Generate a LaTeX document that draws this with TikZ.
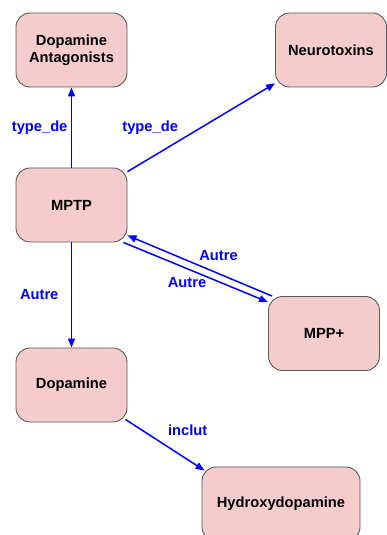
\documentclass[tikz,border=0pt]{standalone}
\usepackage{fontspec}
\setmainfont{Liberation Sans}
\usetikzlibrary{arrows.meta}
\definecolor{boxpink}{HTML}{F4CCCC}
\definecolor{boxline}{HTML}{5A5A5A}

\begin{document}
\begin{tikzpicture}[x=1pt, y=1pt,
    concept/.style={draw=boxline, line width=0.9pt, fill=boxpink, rounded corners=14pt,
      minimum width=111pt, minimum height=74pt, align=center,
      font=\fontsize{14.7}{17}\selectfont\bfseries},
    rel/.style={draw=blue, line width=1.5pt, -{Triangle[length=9pt, width=7pt]}},
    lbl/.style={text=blue, font=\fontsize{14.7}{17}\selectfont\bfseries}]
    \useasboundingbox (0,0) rectangle (387,535);
    \node [concept] (ant) at (71.5,485) {Dopamine\\Antagonists};
    \node [concept] (neuro) at (331,485) {Neurotoxins};
    \node [concept] (mptp) at (71.5,330) {MPTP};
    \node [concept] (mpp) at (324,201.5) {MPP+};
    \node [concept] (dopa) at (71.5,150) {Dopamine};
    \node [concept, minimum width=158pt] (hydro) at (281,31) {Hydroxydopamine};
    \draw [rel] (mptp) -- node [lbl, left] {type\_de} (ant);
    \draw [rel] (mptp) -- node [lbl, pos=0.37, above left] {type\_de} (neuro);
    \draw [rel] (mptp) -- node [lbl, left=9pt] {Autre} (dopa);
    \draw [rel] ([xshift=-4pt]mptp.south east) -- node [lbl, pos=0.44, below=4.5pt] {Autre} ([yshift=-6pt]mpp.north west);
    \draw [rel] ([xshift=4pt]mpp.north west) -- node [lbl, pos=0.37, above=8.5pt] {Autre} ([yshift=7pt]mptp.south east);
    \draw [rel] ([shift={(-2pt,3pt)}]dopa.south east) -- node [lbl, pos=0.45, above right=3pt] {inclut} ([shift={(3pt,-4pt)}]hydro.north west);
\end{tikzpicture}
\end{document}
